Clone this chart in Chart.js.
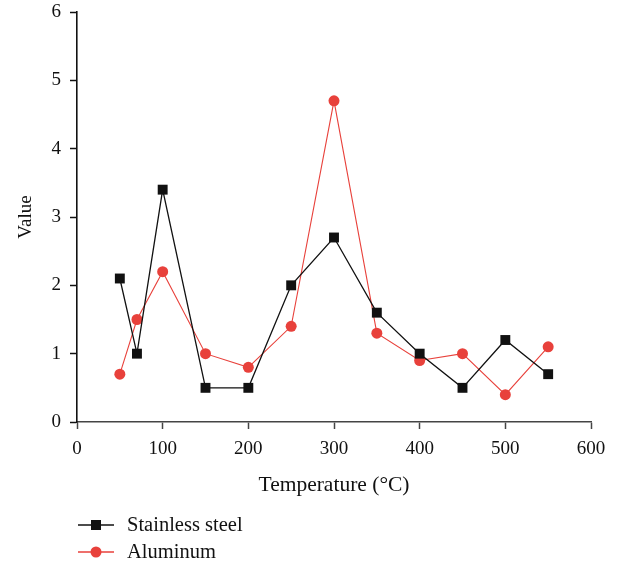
<!DOCTYPE html>
<html>
<head>
<meta charset="utf-8">
<script src="https://cdn.jsdelivr.net/npm/chart.js@4"></script>
<style>
  html, body { margin: 0; padding: 0; background: #fff; }
  #wrap { width: 617px; height: 565px; }
</style>
</head>
<body>
<div id="wrap"><canvas id="chart" width="617" height="565"></canvas></div>
<script>
const temps = [50, 70, 100, 150, 200, 250, 300, 350, 400, 450, 500, 550];
const steelVals = [2.1, 1.0, 3.4, 0.5, 0.5, 2.0, 2.7, 1.6, 1.0, 0.5, 1.2, 0.7];
const aluVals = [0.7, 1.5, 2.2, 1.0, 0.8, 1.4, 4.7, 1.3, 0.9, 1.0, 0.4, 1.1];
const seriesNames = ['Stainless steel', 'Aluminum'];

const FONT = "'Liberation Serif', 'DejaVu Serif', serif";
const BLACK = '#111111';
const RED = '#e8413b';

const toPoints = vals => temps.map((t, i) => ({ x: t, y: vals[i] }));

// legend drawn under the axis, one entry per row
const bottomLegend = {
    id: 'bottomLegend',
    afterDraw(chart) {
        const ctx = chart.ctx;
        ctx.save();
        chart.data.datasets.forEach((ds, i) => {
            const y = 525 + i * 27;
            ctx.strokeStyle = ds.borderColor;
            ctx.lineWidth = 1.3;
            ctx.beginPath();
            ctx.moveTo(78, y);
            ctx.lineTo(114, y);
            ctx.stroke();
            ctx.fillStyle = ds.backgroundColor;
            ctx.beginPath();
            if (ds.pointStyle === 'rect') ctx.rect(91, y - 5, 10, 10);
            else ctx.arc(96, y, 5.5, 0, Math.PI * 2);
            ctx.fill();
            ctx.fillStyle = BLACK;
            ctx.font = '20.5px ' + FONT;
            ctx.textBaseline = 'middle';
            ctx.fillText(ds.label, 127, y + 1);
        });
        ctx.restore();
    }
};

new Chart(document.getElementById('chart'), {
    type: 'line',
    data: {
        datasets: [
            { label: seriesNames[0], data: toPoints(steelVals), borderColor: BLACK, backgroundColor: BLACK, borderWidth: 1.3, pointStyle: 'rect', pointRadius: 7, pointHoverRadius: 7, pointBorderWidth: 0, tension: 0 },
            { label: seriesNames[1], data: toPoints(aluVals), borderColor: RED, backgroundColor: RED, borderWidth: 1.1, pointStyle: 'circle', pointRadius: 5.5, pointHoverRadius: 5.5, pointBorderWidth: 0, tension: 0 }
        ]
    },
    options: {
        responsive: false,
        animation: false,
        layout: { padding: { top: 12, right: 26, bottom: 63, left: 0 } },
        plugins: { legend: { display: false }, tooltip: { enabled: false } },
        scales: {
            x: {
                type: 'linear', min: 0, max: 600,
                ticks: { stepSize: 100, color: BLACK, font: { family: FONT, size: 19 }, padding: 9 },
                grid: { drawOnChartArea: false, tickLength: 7, tickColor: '#444', tickWidth: 1.5 },
                border: { color: '#444', width: 1.6 },
                title: { display: true, text: 'Temperature (°C)', color: BLACK, font: { family: FONT, size: 21.5 }, padding: { top: 0 } },
                afterFit: s => { s.height = 80; }
            },
            y: {
                min: 0, max: 6,
                ticks: { stepSize: 1, color: BLACK, font: { family: FONT, size: 19 }, padding: 9 },
                grid: { drawOnChartArea: false, tickLength: 7, tickColor: BLACK, tickWidth: 1.5 },
                border: { color: BLACK, width: 1.6 },
                title: { display: true, text: 'Value', color: BLACK, font: { family: FONT, size: 19 }, padding: { top: 15, bottom: 0 } },
                afterFit: s => { s.width = 77; s.paddingTop = 0; s.paddingBottom = 0; }
            }
        }
    },
    plugins: [bottomLegend]
});
</script>
</body>
</html>
